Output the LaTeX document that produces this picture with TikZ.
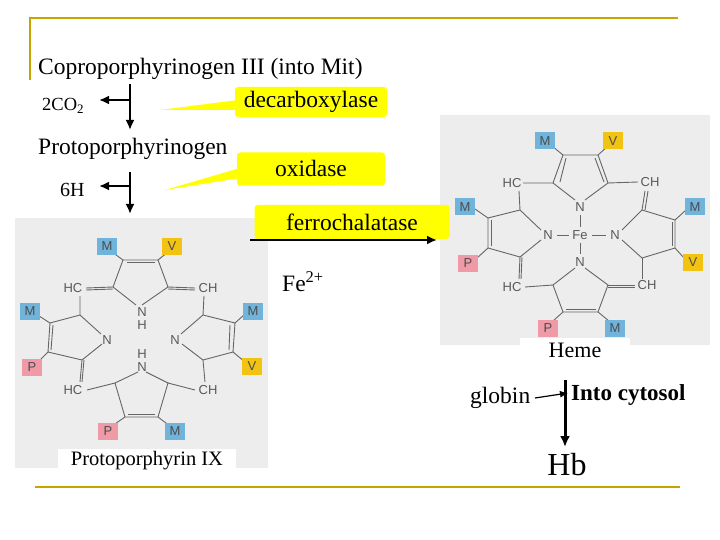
\documentclass[tikz,border=0pt]{standalone}
\usepackage{fontspec}
\setmainfont{Liberation Serif}
\newfontfamily\lab{Liberation Sans}
\usetikzlibrary{arrows.meta}
\definecolor{gold}{HTML}{C8A400}
\definecolor{ybox}{HTML}{FFFF00}
\definecolor{mcol}{HTML}{70B4DC}
\definecolor{vcol}{HTML}{F2C313}
\definecolor{pcol}{HTML}{F09AA8}
\definecolor{bgimg}{HTML}{EDEDED}
\tikzset{
 txt/.style={font=\fontsize{23.5}{26}\selectfont,inner sep=0pt,anchor=west},
 ybx/.style={fill=ybox,rounded corners=3pt,font=\fontsize{23.5}{26}\selectfont,inner sep=0pt},
 bond/.style={gray!80!black,line width=0.9pt},
 atm/.style={font=\lab\fontsize{13}{14}\selectfont,text=gray!70!black,inner sep=1pt},
 labm/.style={fill=mcol,font=\lab\fontsize{13}{14}\selectfont,text=gray!60!black,minimum width=20pt,minimum height=17pt,inner sep=0pt},
 labv/.style={labm,fill=vcol},
 labp/.style={labm,fill=pcol},
 arr/.style={line width=2pt,-{Latex[length=10pt,width=9pt]}},
}
\begin{document}
\begin{tikzpicture}[x=1pt,y=-1pt]
\useasboundingbox (0,0) rectangle (720,540);
\fill[white] (0,0) rectangle (720,540);
% frame lines
\draw[gold,line width=2.5pt] (30,80) -- (30,18) -- (678,18);
\draw[gold,line width=2.5pt] (35,487) -- (680,487);
% image backgrounds
\fill[bgimg] (15,218) rectangle (268,468);
\fill[bgimg] (440,115) rectangle (710,345);
% texts
\node[txt] (copro) at (38,69) {Coproporphyrinogen III (into Mit)};
\node[txt,font=\fontsize{18.5}{20}\selectfont] (co2) at (42,106) {2CO\textsubscript{2}};
\node[txt] (proto) at (38,149) {Protoporphyrinogen};
\node[txt,font=\fontsize{20}{22}\selectfont] (h6) at (60,190) {6H};
% step arrows
\coordinate (a1) at (130,84); \coordinate (a2) at (130,130); \coordinate (a3) at (130,100); \coordinate (a4) at (99,100);
\draw[arr] (a1) -- (a2);
\draw[arr] (a3) -- (a4);
\coordinate (b1) at (130,172); \coordinate (b2) at (130,214); \coordinate (b3) at (130,186); \coordinate (b4) at (99,186);
\draw[arr] (b1) -- (b2);
\draw[arr] (b3) -- (b4);
% callouts
\fill[ybox] (238,100) -- (160,110) -- (238,110) -- cycle;
\node[ybx,minimum width=152pt,minimum height=30pt] (decarb) at (311,102) {decarboxylase};
\fill[ybox] (240,168) -- (165,190) -- (240,178) -- cycle;
\node[ybx,minimum width=148pt,minimum height=33pt] (oxid) at (311,169) {\raisebox{2pt}{oxidase}};
\node[ybx,minimum width=195pt,minimum height=34pt] (ferro) at (352,222) {ferrochalatase};
\coordinate (f1) at (250,240); \coordinate (f2) at (437,240);
\draw[arr] (f1) -- (f2);
\node[txt] (fe) at (282,282) {Fe\textsuperscript{2+}};
% left porphyrin
\begin{scope}
\draw[bond] (113,287) -- (123,260) -- (158,260) -- (168,287) -- (142,305) (113,287) -- (136,305);
\draw[bond] (127,262) -- (155,262);
\draw[bond] (80,315) -- (50,323) -- (48,352) -- (82,360) -- (102,344) (80,315) -- (101,334);
\draw[bond] (53,325) -- (51,350);
\draw[bond] (203,315) -- (235,323) -- (233,352) -- (203,360) -- (182,344) (203,315) -- (181,334);
\draw[bond] (230,325) -- (229,350);
\draw[bond] (115,383) -- (125,417) -- (158,417) -- (168,383) -- (146,372) (115,383) -- (138,372);
\draw[bond] (128,414) -- (155,414);
\draw[bond] (86,288) -- (113,287) (86,290) -- (113,289) (80,296) -- (80,315);
\draw[bond] (168,287) -- (195,288) (168,289) -- (195,290) (204,296) -- (203,315);
\draw[bond] (82,360) -- (80,382) (84,360) -- (82,382) (87,390) -- (115,383);
\draw[bond] (203,360) -- (205,382) (168,383) -- (195,390);
\draw[bond] (123,260) -- (112,252) (158,260) -- (168,252);
\draw[bond] (50,323) -- (36,314) (48,352) -- (38,362);
\draw[bond] (235,323) -- (245,314) (233,352) -- (245,362);
\draw[bond] (125,417) -- (112,426) (158,417) -- (170,426);
\node[atm] (ln1) at (142,312) {N}; \node[atm] (lh1) at (142,325) {H};
\node[atm] (ln2) at (107,340) {N};
\node[atm] (ln3) at (175,340) {N};
\node[atm] (ln4) at (142,367) {N}; \node[atm] (lh4) at (142,354) {H};
\node[atm] (lc1) at (73,288) {HC}; \node[atm] (lc2) at (208,288) {CH};
\node[atm] (lc3) at (73,390) {HC}; \node[atm] (lc4) at (208,390) {CH};
\node[labm] (lm1) at (107,246) {M}; \node[labv] (lv1) at (172,246) {V};
\node[labm] (lm2) at (30,311) {M}; \node[labp] (lp2) at (32,367) {P};
\node[labm] (lm3) at (253,311) {M}; \node[labv] (lv3) at (252,366) {V};
\node[labp] (lp4) at (108,431) {P}; \node[labm] (lm4) at (175,431) {M};
\end{scope}
\fill[white] (58,449) rectangle (236,470);
\node[font=\fontsize{20.5}{22}\selectfont,inner sep=0pt] (ppix) at (147,461) {Protoporphyrin IX};
% right porphyrin (heme)
\begin{scope}
\draw[bond] (553,183) -- (563,155) -- (598,155) -- (608,183) -- (585,200) (553,183) -- (575,200);
\draw[bond] (566,158) -- (560,182) (595,158) -- (604,182);
\draw[bond] (520,210) -- (488,218) -- (488,248) -- (520,257) -- (541,240) (520,210) -- (541,230);
\draw[bond] (491,220) -- (491,246);
\draw[bond] (642,210) -- (675,220) -- (675,248) -- (642,258) -- (622,240) (642,210) -- (622,230);
\draw[bond] (672,222) -- (672,246);
\draw[bond] (553,285) -- (563,312) -- (598,312) -- (608,285) -- (585,268) (553,285) -- (575,268);
\draw[bond] (566,309) -- (596,309);
\draw[bond] (523,183) -- (553,183) (519,191) -- (520,210);
\draw[bond] (608,183) -- (638,182) (645,191) -- (642,210) (648,191) -- (645,210);
\draw[bond] (520,257) -- (519,279) (522,257) -- (521,279) (525,287) -- (553,285);
\draw[bond] (642,258) -- (642,279) (608,285) -- (635,285) (608,287) -- (635,287);
\draw[bond] (557,235) -- (569,235) (592,235) -- (606,235) (580,215) -- (580,227) (580,243) -- (580,254);
\draw[bond] (563,155) -- (552,146) (598,155) -- (608,146);
\draw[bond] (488,218) -- (475,209) (488,248) -- (477,258);
\draw[bond] (675,220) -- (686,210) (675,248) -- (684,258);
\draw[bond] (563,312) -- (553,321) (598,312) -- (609,321);
\node[atm] (rn1) at (580,207) {N};
\node[atm] (rn2) at (548,235) {N};
\node[atm] (rfe) at (580,235) {Fe};
\node[atm] (rn3) at (615,235) {N};
\node[atm] (rn4) at (580,262) {N};
\node[atm] (rc1) at (512,183) {HC}; \node[atm] (rc2) at (650,182) {CH};
\node[atm] (rc3) at (512,287) {HC}; \node[atm] (rc4) at (647,285) {CH};
\node[labm] (rm1) at (545,141) {M}; \node[labv] (rv1) at (613,141) {V};
\node[labm] (rm2) at (465,207) {M}; \node[labp] (rp2) at (468,263) {P};
\node[labm] (rm3) at (695,207) {M}; \node[labv] (rv3) at (693,262) {V};
\node[labp] (rp4) at (548,328) {P}; \node[labm] (rm4) at (615,328) {M};
\end{scope}
\fill[white] (520,338) rectangle (630,360);
\node[font=\fontsize{22}{24}\selectfont,inner sep=0pt] (heme) at (575,350) {Heme};
% globin
\node[txt] (globin) at (470,398) {globin};
\node[txt,font=\bfseries\fontsize{23}{25}\selectfont] (cyto) at (571,395) {Into cytosol};
\coordinate (g1) at (535,398); \coordinate (g2) at (568,393);
\draw[line width=1.2pt,-{Latex[length=8pt,width=7pt]}] (g1) -- (g2);
\coordinate (h1) at (565,380); \coordinate (h2) at (565,447);
\draw[line width=3pt,-{Latex[length=11pt,width=10pt]}] (h1) -- (h2);
\node[font=\fontsize{32}{34}\selectfont,inner sep=0pt] (hb) at (567,465) {Hb};
\end{tikzpicture}
\end{document}
